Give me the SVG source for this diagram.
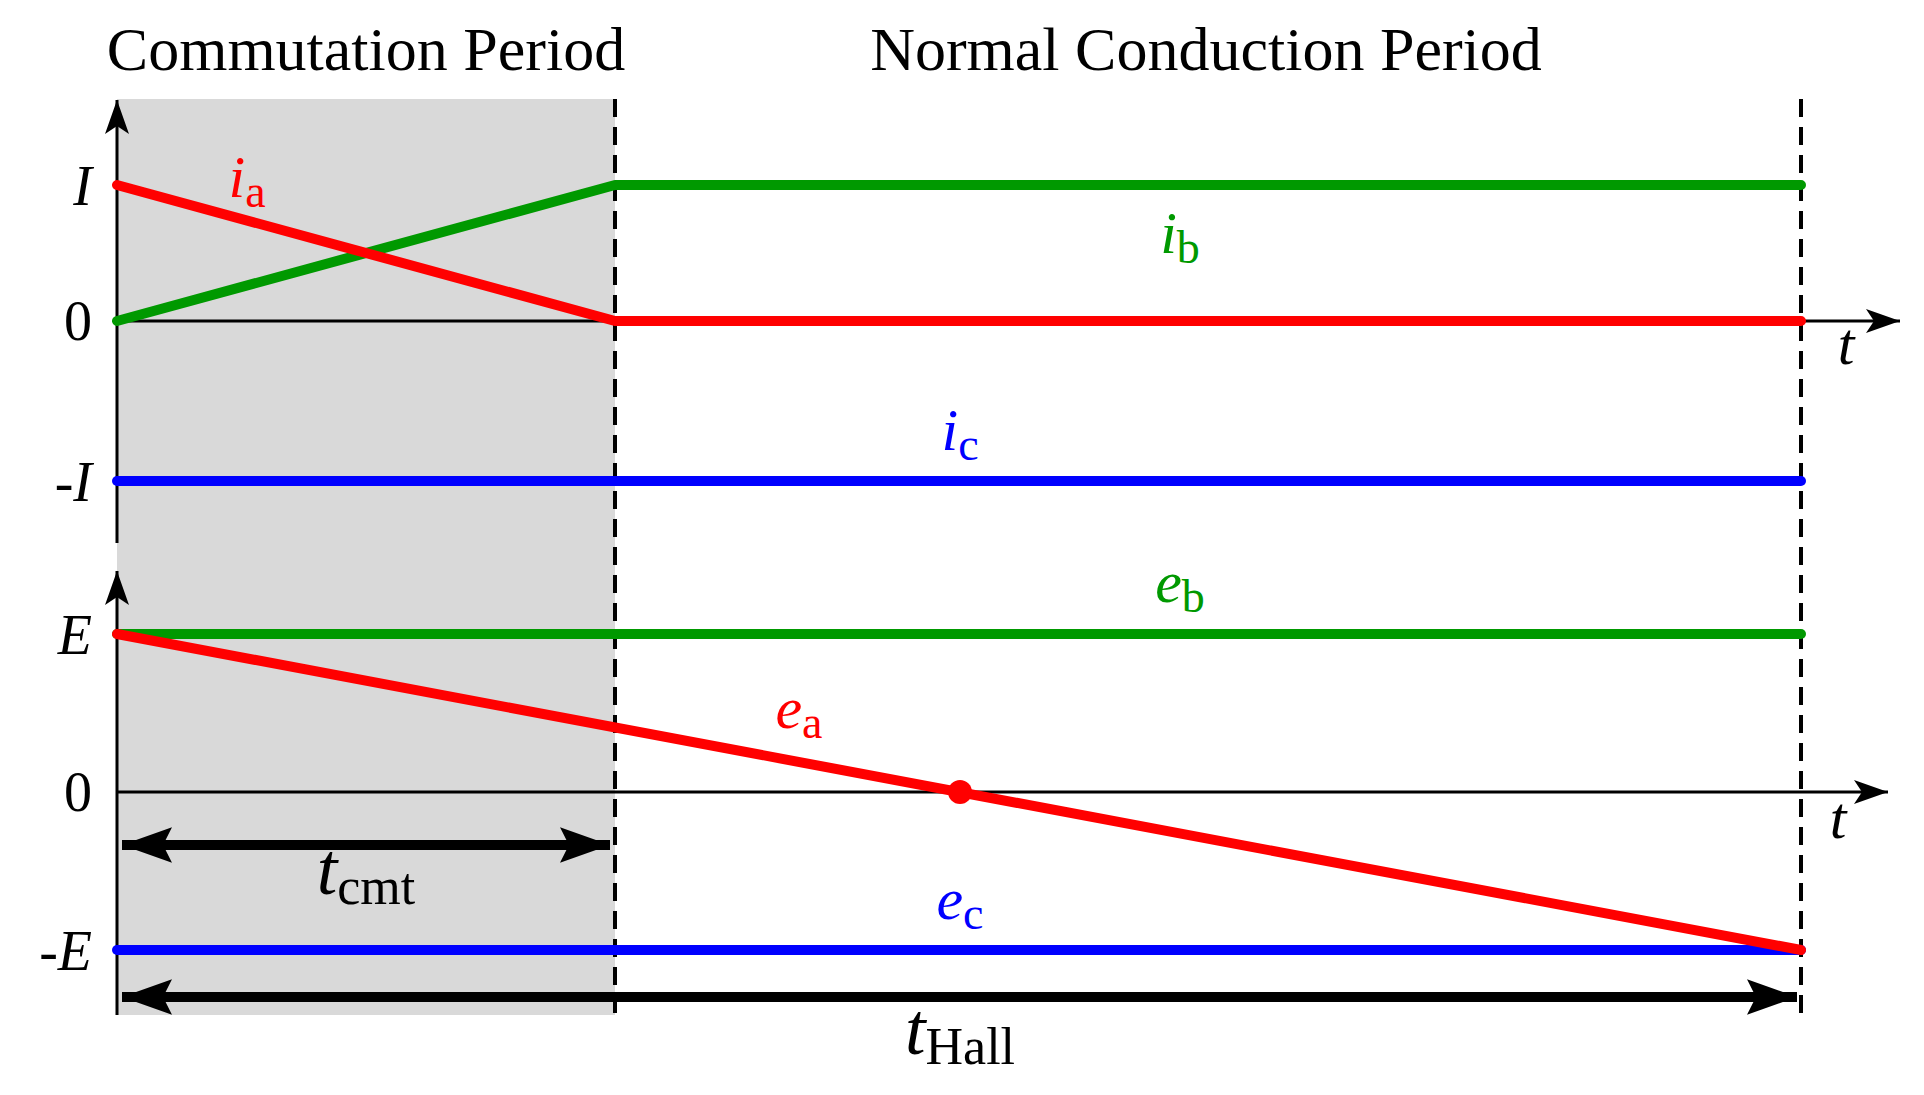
<svg xmlns="http://www.w3.org/2000/svg" width="1924" height="1095" viewBox="0 0 1924 1095">
<style>
text{font-family:"Liberation Serif","Times New Roman",serif;}
.t{font-size:62px;text-anchor:middle}
.l{font-size:56px;font-style:italic;text-anchor:end}
.v{font-size:60px;font-style:italic;text-anchor:middle}
.s{font-style:normal;font-size:46px}
.ax{stroke:#000;stroke-width:3;fill:none}
.dash{stroke:#000;stroke-width:4;stroke-dasharray:18,10;fill:none}
.c{stroke-width:10;stroke-linecap:round;fill:none;stroke-linejoin:round}
.dim{stroke:#000;stroke-width:10;fill:none}
</style>
<defs>
<marker id="ah" viewBox="0 0 34 24" refX="34" refY="12" markerWidth="34" markerHeight="24" markerUnits="userSpaceOnUse" orient="auto"><path d="M0,0 L34,12 L0,24 L8,12 Z" fill="#000"/></marker>
<marker id="ah2" viewBox="0 0 14 10" refX="14" refY="5" markerWidth="50" markerHeight="38" markerUnits="userSpaceOnUse" orient="auto-start-reverse"><path d="M0,0 L14,5 L0,10 L2.5,5 Z" fill="#000"/></marker>
</defs>
<rect width="1924" height="1095" fill="#fff"/>
<rect x="117" y="99" width="498" height="916" fill="#d9d9d9"/>
<g id="titles">
<text class="t" x="366" y="70">Commutation Period</text>
<text class="t" x="1206" y="70">Normal Conduction Period</text>
</g>
<g id="axes">
<path class="ax" d="M117,543 V100" marker-end="url(#ah)"/>
<path class="ax" d="M117,321 H1900" marker-end="url(#ah)"/>
<path class="ax" d="M117,1015 V571" marker-end="url(#ah)"/>
<path class="ax" d="M117,792 H1888" marker-end="url(#ah)"/>
<path class="dash" d="M615,99 V1015"/>
<path class="dash" d="M1801,99 V1015"/>
</g>
<g id="labels">
<text class="l" x="92" y="205">I</text>
<text class="l" x="92" y="340" style="font-style:normal">0</text>
<text class="l" x="92" y="501">-I</text>
<text class="l" x="92" y="654">E</text>
<text class="l" x="92" y="811" style="font-style:normal">0</text>
<text class="l" x="92" y="970">-E</text>
<text class="v" x="1846" y="364">t</text>
<text class="v" x="1838" y="838">t</text>
</g>
<g id="connectors">
<path class="c" stroke="#0000ff" d="M117,481 H1801"/>
<path class="c" stroke="#009900" d="M117,321 L615,185 H1801"/>
<path class="c" stroke="#ff0000" d="M117,185 L615,321 H1801"/>
<path class="c" stroke="#009900" d="M117,634 H1801"/>
<path class="c" stroke="#0000ff" d="M117,950 H1801"/>
<path class="c" stroke="#ff0000" d="M117,634 L1801,950"/>
<circle cx="960" cy="792" r="12" fill="#ff0000"/>
<path class="dim" d="M122,845 H610" marker-start="url(#ah2)" marker-end="url(#ah2)"/>
<path class="dim" d="M122,997 H1797" marker-start="url(#ah2)" marker-end="url(#ah2)"/>
</g>
<g id="signal-labels">
<text class="v" x="247" y="197" fill="#ff0000">i<tspan class="s" dy="10">a</tspan></text>
<text class="v" x="1180" y="253" fill="#009900">i<tspan class="s" dy="10">b</tspan></text>
<text class="v" x="960" y="450" fill="#0000ff">i<tspan class="s" dy="10">c</tspan></text>
<text class="v" x="1180" y="602" fill="#009900">e<tspan class="s" dy="10">b</tspan></text>
<text class="v" x="799" y="728" fill="#ff0000">e<tspan class="s" dy="10">a</tspan></text>
<text class="v" x="960" y="919" fill="#0000ff">e<tspan class="s" dy="10">c</tspan></text>
<text class="v" x="366" y="894" style="font-size:74px">t<tspan class="s" style="font-size:52px" dy="10">cmt</tspan></text>
<text class="v" x="960" y="1054" style="font-size:74px">t<tspan class="s" style="font-size:52px" dy="10">Hall</tspan></text>
</g>
</svg>
